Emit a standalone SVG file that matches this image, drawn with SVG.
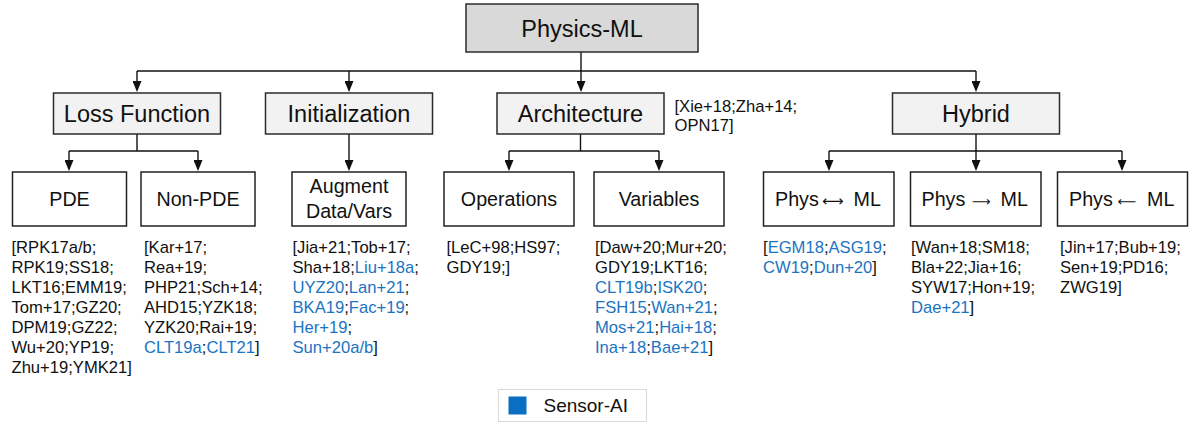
<svg xmlns="http://www.w3.org/2000/svg" width="1197" height="423" viewBox="0 0 1197 423">
  <style>
    text { font-family: "Liberation Sans", Arial, sans-serif; fill: #111; }
    .root rect { fill: #d9d9d9; stroke: #2b2b2b; stroke-width: 1.5; }
    .cat rect { fill: #f2f2f2; stroke: #2b2b2b; stroke-width: 1.5; }
    .sub rect { fill: #ffffff; stroke: #222; stroke-width: 1.5; }
    .big { font-size: 23.5px; text-anchor: middle; }
    .mid { font-size: 19.7px; text-anchor: middle; }
    .ref { font-size: 16.6px; }
    .c { fill: #1a74c2; }
    .sym { font-family: "DejaVu Sans", sans-serif; font-size: 15px; }
    .sym.short { font-size: 13px; }
    #connectors path { fill: none; stroke: #111; stroke-width: 1.4; }
    #connectors path.arr { marker-end: url(#ah); }
  </style>
  <defs>
    <marker id="ah" viewBox="0 0 11 9" refX="9" refY="4.5" markerWidth="11" markerHeight="9" markerUnits="userSpaceOnUse" orient="auto">
      <path d="M0,0 L11,4.5 L0,9 z" fill="#111"/>
    </marker>
  </defs>

  <rect width="1197" height="423" fill="#ffffff"/>

  <!-- connectors -->
  <g id="connectors">
    <path class="arr" d="M581,52 V90"/>
    <path d="M137,71 H976"/>
    <path class="arr" d="M137,71 V90"/>
    <path class="arr" d="M349,71 V90"/>
    <path class="arr" d="M976,71 V90"/>

    <path d="M137,134 V151 M69,151 H198"/>
    <path class="arr" d="M69,151 V169"/>
    <path class="arr" d="M198,151 V169"/>

    <path class="arr" d="M349,134 V169"/>

    <path d="M580.5,134 V151 M509,151 H659"/>
    <path class="arr" d="M509,151 V169"/>
    <path class="arr" d="M659,151 V169"/>

    <path d="M976,134 V151 M829,151 H1122"/>
    <path class="arr" d="M829,151 V169"/>
    <path class="arr" d="M976,151 V169"/>
    <path class="arr" d="M1122,151 V169"/>
  </g>

  <!-- root -->
  <g id="physics-ml" class="root">
    <rect x="466" y="4" width="232" height="48"/>
    <text class="big" x="582" y="37">Physics-ML</text>
  </g>

  <!-- categories -->
  <g id="loss-function" class="cat">
    <rect x="53.5" y="93" width="167" height="41"/>
    <text class="big" x="137" y="122">Loss Function</text>
  </g>
  <g id="initialization" class="cat">
    <rect x="265.5" y="93" width="167" height="41"/>
    <text class="big" x="349" y="122">Initialization</text>
  </g>
  <g id="architecture" class="cat">
    <rect x="497" y="93" width="167" height="41"/>
    <text class="big" x="580.5" y="122">Architecture</text>
    <text class="ref" x="674.5" y="111.5">[Xie+18;Zha+14;</text>
    <text class="ref" x="674.5" y="131">OPN17]</text>
  </g>
  <g id="hybrid" class="cat">
    <rect x="892.5" y="93" width="167" height="41"/>
    <text class="big" x="976" y="122">Hybrid</text>
  </g>

  <!-- sub-categories with their references -->
  <g id="pde" class="sub">
    <rect x="12.5" y="172" width="114" height="54"/>
    <text class="mid" x="69.5" y="206">PDE</text>
    <text class="ref" x="11.5" y="253">[RPK17a/b;</text>
    <text class="ref" x="11.5" y="273">RPK19;SS18;</text>
    <text class="ref" x="11.5" y="293">LKT16;EMM19;</text>
    <text class="ref" x="11.5" y="313">Tom+17;GZ20;</text>
    <text class="ref" x="11.5" y="333">DPM19;GZ22;</text>
    <text class="ref" x="11.5" y="353">Wu+20;YP19;</text>
    <text class="ref" x="11.5" y="373">Zhu+19;YMK21]</text>
  </g>
  <g id="non-pde" class="sub">
    <rect x="141" y="172" width="114" height="54"/>
    <text class="mid" x="198" y="206">Non-PDE</text>
    <text class="ref" x="144" y="253">[Kar+17;</text>
    <text class="ref" x="144" y="273">Rea+19;</text>
    <text class="ref" x="144" y="293">PHP21;Sch+14;</text>
    <text class="ref" x="144" y="313">AHD15;YZK18;</text>
    <text class="ref" x="144" y="333">YZK20;Rai+19;</text>
    <text class="ref" x="144" y="353"><tspan class="c">CLT19a</tspan>;<tspan class="c">CLT21</tspan>]</text>
  </g>
  <g id="augment" class="sub">
    <rect x="292" y="172" width="114" height="54"/>
    <text class="mid" x="349" y="192.5">Augment</text>
    <text class="mid" x="349" y="217.5">Data/Vars</text>
    <text class="ref" x="292.5" y="253">[Jia+21;Tob+17;</text>
    <text class="ref" x="292.5" y="273">Sha+18;<tspan class="c">Liu+18a</tspan>;</text>
    <text class="ref" x="292.5" y="293"><tspan class="c">UYZ20</tspan>;<tspan class="c">Lan+21</tspan>;</text>
    <text class="ref" x="292.5" y="313"><tspan class="c">BKA19</tspan>;<tspan class="c">Fac+19</tspan>;</text>
    <text class="ref" x="292.5" y="333"><tspan class="c">Her+19</tspan>;</text>
    <text class="ref" x="292.5" y="353"><tspan class="c">Sun+20a/b</tspan>]</text>
  </g>
  <g id="operations" class="sub">
    <rect x="444" y="172" width="130" height="54"/>
    <text class="mid" x="509" y="206">Operations</text>
    <text class="ref" x="446.5" y="253">[LeC+98;HS97;</text>
    <text class="ref" x="446.5" y="273">GDY19;]</text>
  </g>
  <g id="variables" class="sub">
    <rect x="594" y="172" width="130" height="54"/>
    <text class="mid" x="659" y="206">Variables</text>
    <text class="ref" x="595" y="253">[Daw+20;Mur+20;</text>
    <text class="ref" x="595" y="273">GDY19;LKT16;</text>
    <text class="ref" x="595" y="293"><tspan class="c">CLT19b</tspan>;<tspan class="c">ISK20</tspan>;</text>
    <text class="ref" x="595" y="313"><tspan class="c">FSH15</tspan>;<tspan class="c">Wan+21</tspan>;</text>
    <text class="ref" x="595" y="333"><tspan class="c">Mos+21</tspan>;<tspan class="c">Hai+18</tspan>;</text>
    <text class="ref" x="595" y="353"><tspan class="c">Ina+18</tspan>;<tspan class="c">Bae+21</tspan>]</text>
  </g>
  <g id="phys-both-ml" class="sub">
    <rect x="763.5" y="172" width="130.5" height="54"/>
    <text class="mid" style="text-anchor:start" y="206"><tspan x="775">Phys</tspan><tspan class="sym" x="822" dy="-0.5">⟷</tspan><tspan x="853.5" dy="0.5">ML</tspan></text>
    <text class="ref" x="763" y="253">[<tspan class="c">EGM18</tspan>;<tspan class="c">ASG19</tspan>;</text>
    <text class="ref" x="763" y="273"><tspan class="c">CW19</tspan>;<tspan class="c">Dun+20</tspan>]</text>
  </g>
  <g id="phys-to-ml" class="sub">
    <rect x="910.5" y="172" width="130.5" height="54"/>
    <text class="mid" style="text-anchor:start" y="206"><tspan x="921.5">Phys</tspan><tspan class="sym short" x="972" dy="-0.5">⟶</tspan><tspan x="1000.5" dy="0.5">ML</tspan></text>
    <text class="ref" x="911" y="253">[Wan+18;SM18;</text>
    <text class="ref" x="911" y="273">Bla+22;Jia+16;</text>
    <text class="ref" x="911" y="293">SYW17;Hon+19;</text>
    <text class="ref" x="911" y="313"><tspan class="c">Dae+21</tspan>]</text>
  </g>
  <g id="ml-to-phys" class="sub">
    <rect x="1057.5" y="172" width="130" height="54"/>
    <text class="mid" style="text-anchor:start" y="206"><tspan x="1069">Phys</tspan><tspan class="sym short" x="1117.5" dy="-0.5">⟵</tspan><tspan x="1147" dy="0.5">ML</tspan></text>
    <text class="ref" x="1060" y="253">[Jin+17;Bub+19;</text>
    <text class="ref" x="1060" y="273">Sen+19;PD16;</text>
    <text class="ref" x="1060" y="293">ZWG19]</text>
  </g>

  <!-- legend -->
  <g id="legend">
    <rect x="498.5" y="389.5" width="148" height="32" fill="#ffffff" stroke="#d9d9d9" stroke-width="1"/>
    <rect x="508.5" y="396.5" width="18" height="18" fill="#0a6fc2"/>
    <text x="543.5" y="411.5" style="font-size:19px">Sensor-AI</text>
  </g>
</svg>
